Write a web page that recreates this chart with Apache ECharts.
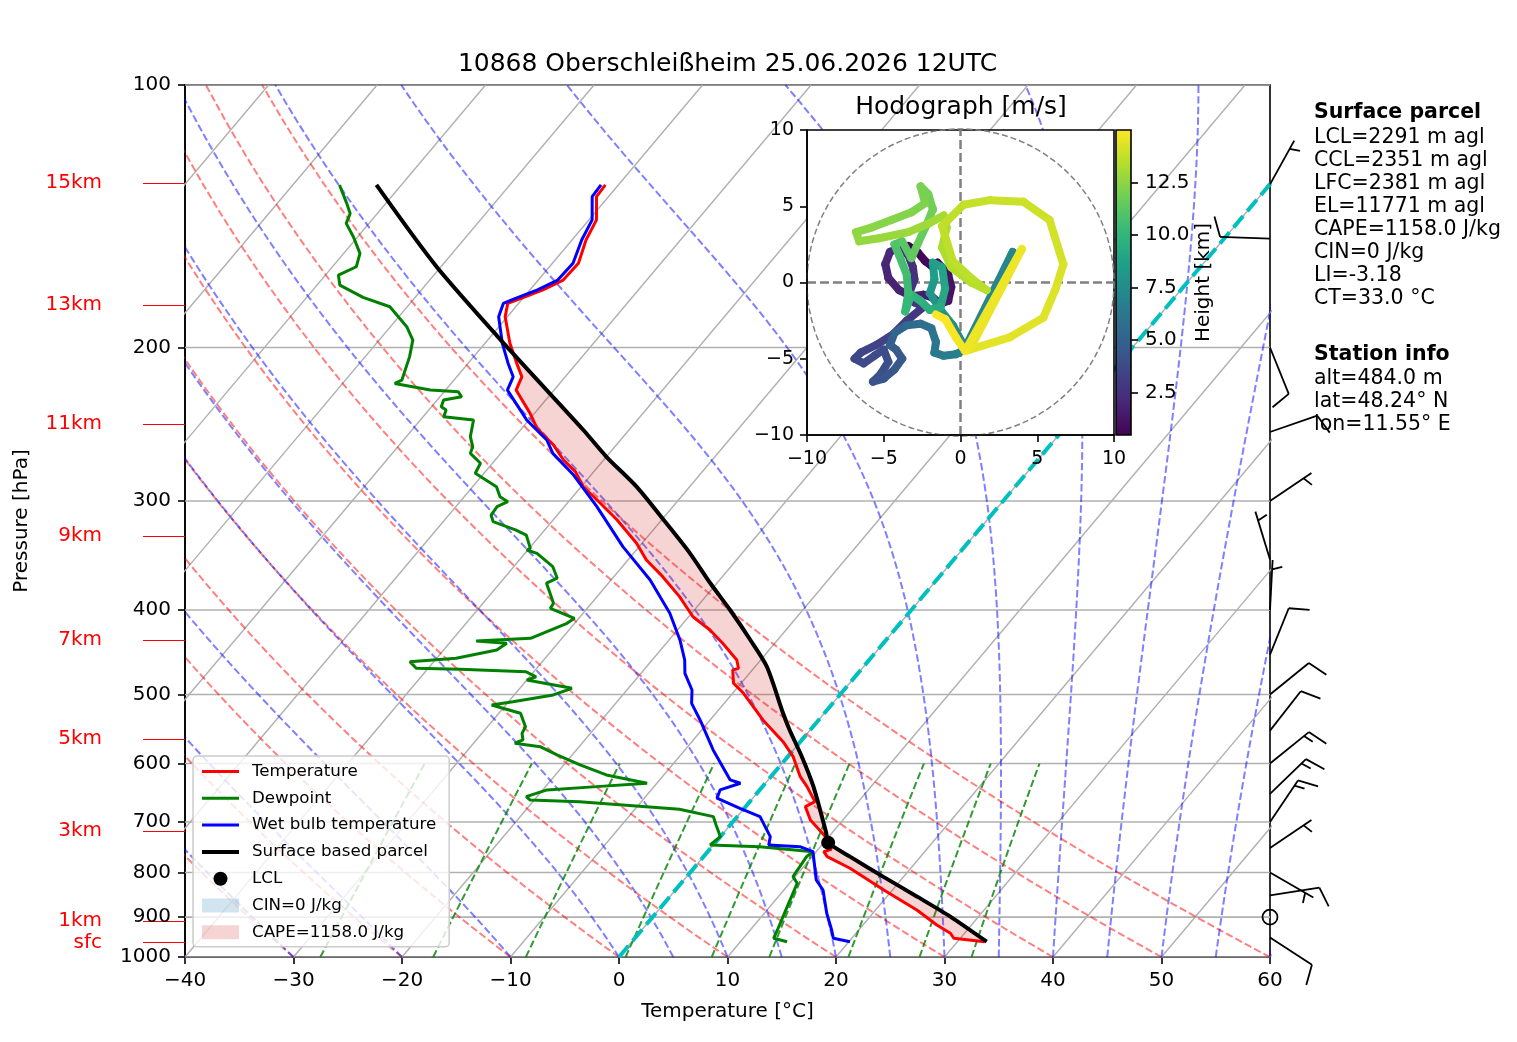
<!DOCTYPE html>
<html lang="en">
<head>
<meta charset="UTF-8">
<title>10868 Oberschleißheim skew-T</title>
<style>
  html, body { margin: 0; background: #fff; }
  #main { width: 1517px; height: 1042px; }
</style>
<script src="https://cdn.jsdelivr.net/npm/echarts@6/dist/echarts.min.js"></script>
</head>
<body>
<div id="main"></div>
<script>
const FONT = 'DejaVu Sans';
const SKEW = 67.7; // degC shift of an isotherm per pressure decade

// --- sounding (hPa, degC) ---
const tempP = [130.2,134.3,142.8,150.6,160.1,167.4,171.8,176.4,178.0,184.4,197.8,208.6,216.1,223.8,238.0,247.6,258.7,269.2,277.6,288.9,299.2,315.4,335.4,350.5,366.3,386.1,407.2,421.7,436.8,456.5,466.6,468.7,485.4,498.4,535.1,566.3,589.2,621.1,637.7,663.5,672.3,696.4,727.8,752.4,757.2,767.3,791.1,837.8,883.2,918.9,939.2,951.7,960.4];
const tempT = [-61.2,-61.1,-59.3,-58.7,-57.6,-57.7,-58.8,-60.4,-61.0,-60.2,-57.7,-55.5,-54.0,-53.5,-50.4,-48.6,-45.8,-43.7,-41.7,-39.8,-37.5,-34.1,-30.5,-28.3,-25.5,-22.4,-19.6,-17.0,-14.8,-12.2,-11.4,-11.8,-10.7,-9.0,-5.1,-1.6,0.5,2.7,4.1,6.0,5.5,7.0,9.7,11.2,10.7,11.4,14.4,19.2,23.8,26.8,28.7,29.4,32.5];

const dewP = [130.2,136.7,140.4,144.1,149.3,156.0,161.6,165.2,169.6,175.2,179.6,189.3,196.1,205.0,218.0,219.9,223.8,224.8,227.8,229.8,233.9,235.9,240.1,242.2,253.1,259.9,264.5,271.5,278.8,288.9,296.6,300.5,304.5,311.3,316.8,323.8,328.2,339.9,341.4,344.4,356.8,367.8,372.7,392.9,398.2,408.9,414.3,431.0,434.1,436.8,444.6,454.4,458.5,466.6,467.9,470.9,477.1,481.3,491.9,500.6,509.6,514.1,525.4,544.4,554.0,563.8,568.7,573.8,586.5,602.2,618.3,632.0,637.7,643.3,654.8,660.5,663.5,677.0,690.3,705.7,727.8,743.9,747.2,757.2,767.3,808.8,823.1,875.6,931.1,951.7,960.4];
const dewT = [-85.7,-83.6,-82.5,-82.1,-80.4,-78.5,-77.8,-78.8,-77.9,-74.8,-71.6,-68.5,-66.9,-65.9,-64.8,-65.2,-61.4,-58.7,-58.0,-59.4,-59.1,-58.4,-58.1,-55.1,-54.1,-53.1,-52.8,-51.1,-50.8,-47.8,-46.7,-45.6,-46.2,-46.1,-45.4,-42.7,-41.3,-39.9,-40.1,-38.9,-36.4,-35.1,-35.7,-33.5,-33.4,-30.4,-30.7,-32.9,-37.7,-34.7,-35.1,-38.2,-42.2,-41.1,-37.0,-30.7,-29.4,-30.0,-25.2,-26.4,-29.6,-31.3,-28.0,-26.5,-26.3,-25.7,-26.2,-23.6,-21.4,-18.5,-15.3,-10.9,-15.3,-19.6,-21.0,-20.4,-15.7,-5.9,-2.2,-1.3,0.0,-0.3,4.4,9.7,9.5,9.8,10.7,11.6,12.5,12.8,14.3];

const wbP = [130.2,134.3,142.8,150.6,160.1,167.4,171.8,176.4,178.0,184.4,197.8,208.6,216.1,223.8,238.0,242.2,255.3,264.5,280.1,304.5,338.4,369.5,403.5,432.9,456.5,472.8,494.1,511.8,535.1,578.8,626.5,632.0,643.3,657.5,675.2,690.3,727.8,743.9,747.2,757.2,816.0,837.8,890.9,931.1,951.7,960.4];
const wbT = [-61.6,-61.5,-59.7,-59.1,-58.1,-58.2,-59.3,-60.9,-61.4,-60.8,-58.4,-56.3,-54.8,-54.3,-51.1,-50.2,-46.8,-45.2,-41.6,-37.0,-31.5,-26.4,-22.0,-19.0,-17.0,-15.95,-14.0,-13.0,-10.9,-7.4,-3.5,-2.3,-3.65,-3.3,-0.4,2.1,4.6,5.1,8.1,9.7,12.2,13.6,15.75,17.5,18.3,20.1];

const parcelP = [960.4,898.8,852.7,808.8,767.2,739.4,721.3,637.8,589.2,549.1,525.4,464.7,433.0,400.0,372.7,344.4,318.2,288.8,266.9,248.7,201.3,161.6,130.2];
const parcelT = [32.7,27.4,22.8,18.1,13.5,10.4,9.5,4.7,1.3,-1.9,-3.8,-8.9,-12.5,-16.7,-20.6,-24.8,-29.3,-34.9,-40.0,-44.2,-57.2,-70.4,-82.3];
const lclP = 739.4, lclT = 10.4;
const elP = 197;

// --- axes / labels ---
const pTicks = [100,200,300,400,500,600,700,800,900,1000];
const heightLbl = ['15km','13km','11km','9km','7km','5km','3km','1km','sfc'];
const heightP = [129.5,178.7,244.8,329.0,433.1,562.3,717.1,909.4,962];
const isoT = [-110,-100,-90,-80,-70,-60,-50,-40,-30,-20,-10,0,10,20,30,40,50,60];
const dryT0 = [-40,-30,-20,-10,0,10,20,30,40,50,60];
const moistT0 = [-40,-30,-20,-10,0,5,10,15,20,25,30,35,40,45,50,55,60];
const mixW = [0.0004,0.001,0.002,0.004,0.007,0.01,0.016,0.024,0.032];

// --- wind barbs (hPa, kt, direction from) ---
const barbP = [130,150,200,250,300,350,400,450,500,550,600,650,700,750,800,850,900,950];
const barbKt = [5,10,10,10,5,5,5,10,10,10,15,15,15,5,5,10,0,10];
const barbDir = [29,272,158,71,56,343,3,22,51,38,51,46,34,56,120,81,0,123];

// --- hodograph (km, m/s) ---
const hodoH = [0.48,0.6,0.7,0.8,0.9,1.0,1.1,1.2,1.3,1.4,1.5,1.6,1.7,1.8,1.9,2.0,2.1,2.2,2.3,2.4,2.5,2.6,2.7,2.8,3.0,3.2,3.4,3.5,3.6,3.7,3.8,3.9,4.0,4.1,4.2,4.3,4.4,4.5,4.6,4.7,5.0,5.3,5.6,5.9,6.1,6.3,6.5,6.7,6.9,7.0,7.1,7.2,7.5,7.8,8.1,8.4,8.6,8.8,9.0,9.2,9.4,9.7,9.9,10.1,10.3,10.5,10.7,10.9,11.1,11.3,11.5,11.7,11.8,11.9,12.0,12.1,12.2,12.3,12.4,12.5,12.6,12.7,12.8,12.9,13.0,13.1,13.2,13.3,13.4,13.45,13.5,13.55,13.6,13.7,13.8,13.9,14.0,14.1,14.2,14.3,14.4,14.5,14.6,14.7,14.8,14.9,15.0];
const hodoU = [-3.4,-2.8,-2.3,-1.9,-1.5,-1.2,-0.8,-0.6,-0.8,-1.3,-1.8,-2.4,-3.2,-4.0,-4.7,-4.9,-4.6,-4.0,-3.4,-3.1,-3.0,-3.3,-3.0,-2.4,-3.5,-4.4,-5.5,-6.5,-6.9,-6.3,-5.6,-5.0,-4.7,-5.2,-5.7,-5.0,-4.3,-3.8,-4.2,-4.6,-4.3,-3.5,-2.6,-1.9,-1.6,-1.7,-1.1,-0.3,0.3,0.9,3.4,0.3,-0.5,-1.3,-2.0,-1.7,-1.8,-1.2,-1.0,-1.3,-2.0,-2.6,-3.2,-3.6,-3.4,-3.5,-4.0,-4.3,-3.8,-3.2,-2.8,-2.2,-1.8,-2.1,-2.6,-2.3,-3.2,-4.5,-5.8,-6.8,-6.6,-5.3,-3.4,-2.0,-1.1,-0.9,-1.2,-0.6,0.7,1.7,0.8,-0.5,-1.2,0.2,1.9,4.1,5.8,6.7,6.2,5.4,3.2,0.6,4.0,0.3,-0.3,-1.0,-1.6];
const hodoV = [2.4,2.0,1.4,1.1,1.3,1.0,0.5,-0.3,-1.2,-1.4,-1.0,-0.8,-0.9,-0.5,0.3,1.2,2.0,2.3,1.8,1.0,0.2,-0.6,-1.3,-1.6,-2.5,-3.4,-4.1,-4.6,-5.0,-5.3,-4.8,-4.4,-5.2,-6.0,-6.5,-6.3,-5.7,-5.0,-4.4,-4.1,-3.3,-2.8,-2.7,-3.0,-3.9,-4.6,-4.8,-4.7,-4.4,-3.4,2.0,-4.3,-2.8,-1.8,-0.7,0.2,1.3,1.0,-0.4,-1.6,-1.8,-1.2,-0.8,-1.9,-0.7,0.5,1.8,2.5,2.7,1.6,2.5,3.8,4.8,5.8,6.3,5.2,4.6,4.1,3.6,3.3,2.7,2.9,3.3,3.9,4.4,3.6,2.3,1.0,0.0,-0.5,0.2,1.4,3.7,5.1,5.4,5.3,4.1,1.2,-0.4,-2.3,-3.6,-4.4,2.2,-4.5,-3.6,-2.4,-2.1];
const hMin = 0.484, hMax = 15.0;
const cbTicks = [2.5,5,7.5,10,12.5];
const viridis = ['#440154','#482878','#3e4989','#31688e','#26828e','#1f9e89','#35b779','#6ece58','#b5de2b','#fde725'];

// --- texts ---
const titleText = '10868 Oberschleißheim 25.06.2026 12UTC';
const parcelInfo = ['LCL=2291 m agl','CCL=2351 m agl','LFC=2381 m agl','EL=11771 m agl','CAPE=1158.0 J/kg','CIN=0 J/kg','LI=-3.18','CT=33.0 °C'];
const stationInfo = ['alt=484.0 m','lat=48.24° N','lon=11.55° E'];
const capeName = 'CAPE=1158.0 J/kg', cinName = 'CIN=0 J/kg';

// skewed x position of a temperature at a pressure
function sx(t, p) { return t + SKEW * Math.log10(1000 / p); }
function prof(P, T) { return P.map((p, i) => [sx(T[i], p), Math.log10(p)]); }
function minus(v) { return v < 0 ? '\u2212' + Math.abs(v) : String(v); }

function dryAdiabat(t0) {
  const out = [];
  for (let p = 1000; p >= 100; p -= 10) {
    const t = (t0 + 273.15) * Math.pow(p / 1000, 0.2857) - 273.15;
    out.push([sx(t, p), Math.log10(p)]);
  }
  return out;
}
function moistAdiabat(t0) {
  const Rd = 287.04749, Cp = 1004.6662, Lv = 2.50084e6, eps = 0.6219569;
  const slope = (p, T) => {
    const tc = T - 273.15;
    const es = 6.112 * Math.exp(17.67 * tc / (tc + 243.5));
    const rs = eps * es / (p - es);
    return (Rd * T + Lv * rs) / (Cp + Lv * Lv * rs * eps / (Rd * T * T)) / p;
  };
  let T = t0 + 273.15;
  const out = [];
  for (let p = 1000; p >= 100; p -= 5) {
    out.push([sx(T - 273.15, p), Math.log10(p)]);
    const k1 = slope(p, T);
    const k2 = slope(p - 2.5, T - 2.5 * k1);
    T -= 5 * k2;
  }
  return out;
}
function mixLine(w) {
  const out = [];
  for (let p = 1000; p >= 600; p -= 10) {
    const e = p * w / (0.6219569 + w);
    const l = Math.log(e / 6.112);
    out.push([sx(243.5 * l / (17.67 - l), p), Math.log10(p)]);
  }
  return out;
}

function line(name, data, color, width, z, dash) {
  return {
    type: 'line', name: name, data: data, xAxisIndex: 0, yAxisIndex: 0,
    symbol: 'none', showSymbol: false, silent: true, clip: true, z: z,
    lineStyle: { color: color, width: width, type: dash || 'solid' },
    itemStyle: { color: color }, emphasis: { disabled: true }
  };
}

const series = [];
// isobars and isotherms
pTicks.forEach(p => series.push(line(null, [[-40, Math.log10(p)], [60, Math.log10(p)]], '#b0b0b0', 1.6, 1)));
isoT.forEach(t => series.push(line(null, [[t, 3], [t + SKEW, 2]], '#b0b0b0', 1.4, 1)));
dryT0.forEach(t => series.push(line(null, dryAdiabat(t), 'rgba(255,0,0,0.5)', 2, 1, [7.4, 3.2])));
moistT0.forEach(t => series.push(line(null, moistAdiabat(t), 'rgba(0,0,255,0.5)', 2, 1, [7.4, 3.2])));
mixW.forEach(w => series.push(line(null, mixLine(w), 'rgba(0,128,0,0.8)', 2, 1, [7.4, 3.2])));
series.push(line(null, [[0, 3], [SKEW, 2]], '#00bfbf', 4, 1, [14.8, 6.4]));

// CAPE area between parcel and environment
const capePoly = prof(parcelP.filter(p => p >= elP), parcelT.filter((t, i) => parcelP[i] >= elP))
  .concat(prof(tempP.filter(p => p >= elP), tempT.filter((t, i) => tempP[i] >= elP)));
const capeColor = 'rgba(214,39,40,0.2)';
series.push({
  type: 'custom', name: capeName, xAxisIndex: 0, yAxisIndex: 0, data: capePoly, clip: true, z: 2, silent: true,
  itemStyle: { color: capeColor },
  renderItem: (params, api) => {
    if (params.dataIndex !== 0) return null;
    return { type: 'polygon', shape: { points: capePoly.map(c => api.coord(c)) }, style: { fill: capeColor } };
  }
});
series.push({
  type: 'custom', name: cinName, xAxisIndex: 0, yAxisIndex: 0, data: [], z: 2, silent: true,
  itemStyle: { color: 'rgba(31,119,180,0.2)' }, renderItem: () => null
});

series.push(line('Temperature', prof(tempP, tempT), '#ff0000', 3, 3));
series.push(line('Dewpoint', prof(dewP, dewT), '#008000', 3, 3));
series.push(line('Wet bulb temperature', prof(wbP, wbT), '#0000ff', 3, 3));
const parcelSeries = line('Surface based parcel', prof(parcelP, parcelT), '#000000', 4, 4);
parcelSeries.smooth = 0.25;
series.push(parcelSeries);
series.push({
  type: 'scatter', name: 'LCL', xAxisIndex: 0, yAxisIndex: 0, data: [[sx(lclT, lclP), Math.log10(lclP)]],
  symbol: 'circle', symbolSize: 14, itemStyle: { color: '#000', opacity: 1 }, z: 5, silent: true
});

// wind barbs on the right border
series.push({
  type: 'custom', xAxisIndex: 0, yAxisIndex: 0, clip: false, z: 3, silent: true,
  data: barbP.map((p, i) => [60, Math.log10(p), barbKt[i], barbDir[i]]),
  encode: { x: 0, y: 1 },
  renderItem: (params, api) => {
    const base = api.coord([api.value(0), api.value(1)]);
    const kt = api.value(2), dir = api.value(3) * Math.PI / 180;
    const L = 50, sp = 6.25, ang = 72.6 * Math.PI / 180;
    const st = { stroke: '#000', lineWidth: 1.8, fill: null };
    if (kt < 2.5) return { type: 'circle', shape: { cx: base[0], cy: base[1], r: 7.5 }, style: st };
    const dx = Math.sin(dir), dy = -Math.cos(dir);
    const bx = dx * Math.cos(ang) - dy * Math.sin(ang), by = dx * Math.sin(ang) + dy * Math.cos(ang);
    const kids = [{ type: 'line', shape: { x1: base[0], y1: base[1], x2: base[0] + dx * L, y2: base[1] + dy * L }, style: st }];
    const n = Math.round(kt / 5), full = Math.floor(n / 2), half = n % 2;
    let off = L;
    for (let i = 0; i < full; i++) {
      const x0 = base[0] + dx * off, y0 = base[1] + dy * off;
      kids.push({ type: 'line', shape: { x1: x0, y1: y0, x2: x0 + bx * 21, y2: y0 + by * 21 }, style: st });
      off -= sp;
    }
    if (half) {
      if (full === 0) off -= 1.5 * sp;
      const x0 = base[0] + dx * off, y0 = base[1] + dy * off;
      kids.push({ type: 'line', shape: { x1: x0, y1: y0, x2: x0 + bx * 10.5, y2: y0 + by * 10.5 }, style: st });
    }
    return { type: 'group', children: kids };
  }
});

// hodograph
series.push({
  type: 'line', xAxisIndex: 1, yAxisIndex: 2, data: [[0, -10], [0, 10]], symbol: 'none', silent: true, z: 5,
  lineStyle: { color: '#808080', width: 2.5, type: [9, 4] }
});
series.push({
  type: 'line', xAxisIndex: 1, yAxisIndex: 2, data: [[-10, 0], [10, 0]], symbol: 'none', silent: true, z: 5,
  lineStyle: { color: '#808080', width: 2.5, type: [9, 4] }
});
series.push({
  type: 'custom', xAxisIndex: 1, yAxisIndex: 2, data: [[0, 0]], encode: { x: 0, y: 1 }, z: 5, silent: true,
  renderItem: (params, api) => {
    const c = api.coord([0, 0]), e = api.coord([10, 0]);
    return { type: 'circle', shape: { cx: c[0], cy: c[1], r: e[0] - c[0] },
      style: { fill: null, stroke: '#808080', lineWidth: 1.5, lineDash: [6, 3] } };
  }
});
const hodoSeg = [];
for (let i = 0; i < hodoH.length - 1; i++) {
  hodoSeg.push([hodoU[i], hodoV[i], hodoU[i + 1], hodoV[i + 1], (hodoH[i] + hodoH[i + 1]) / 2]);
}
const hodoIndex = series.length;
series.push({
  type: 'custom', xAxisIndex: 1, yAxisIndex: 2, data: hodoSeg, encode: { x: [0, 2], y: [1, 3] }, z: 6, silent: true,
  renderItem: (params, api) => {
    const a = api.coord([api.value(0), api.value(1)]), b = api.coord([api.value(2), api.value(3)]);
    return { type: 'line', shape: { x1: a[0], y1: a[1], x2: b[0], y2: b[1] },
      style: { stroke: api.visual('color'), lineWidth: 8, lineCap: 'round' } };
  }
});
// colour bar
series.push({
  type: 'custom', xAxisIndex: 2, yAxisIndex: 3, data: [[0, hMin], [1, hMax]], encode: { x: 0, y: 1 }, z: 6, silent: true,
  renderItem: (params, api) => {
    if (params.dataIndex !== 0) return null;
    const tl = api.coord([0, hMax]), br = api.coord([1, hMin]);
    const stops = viridis.map((c, i) => ({ offset: i / (viridis.length - 1), color: viridis[viridis.length - 1 - i] }));
    return { type: 'rect', shape: { x: tl[0], y: tl[1], width: br[0] - tl[0], height: br[1] - tl[1] },
      style: { fill: new echarts.graphic.LinearGradient(0, 0, 0, 1, stops), stroke: '#000', lineWidth: 1.6 } };
  }
});

const tickStyle = { show: true, length: 7, lineStyle: { color: '#000', width: 1.6 } };
const axLine = { show: true, onZero: false, lineStyle: { color: '#000', width: 1.6 } };
const pLog = pTicks.map(p => Math.log10(p));
const hLog = heightP.map(p => Math.log10(p));

const option = {
  animation: false,
  backgroundColor: '#fff',
  textStyle: { fontFamily: FONT, color: '#000' },
  grid: [
    { left: 185, right: 247, top: 85, bottom: 85, show: true, borderColor: '#000', borderWidth: 1.6,
      backgroundColor: 'transparent', containLabel: false, outerBoundsMode: 'none' },
    { left: 807, top: 130, width: 307, height: 305, show: true, borderColor: '#000', borderWidth: 1.6,
      backgroundColor: '#fff', z: 3, containLabel: false, outerBoundsMode: 'none' },
    { left: 1116, top: 130, width: 15, height: 305, show: false, containLabel: false, outerBoundsMode: 'none' }
  ],
  xAxis: [
    { gridIndex: 0, type: 'value', min: -40, max: 60, interval: 10, position: 'bottom',
      name: 'Temperature [°C]', nameLocation: 'middle', nameGap: 45,
      nameTextStyle: { fontSize: 20, color: '#000', fontFamily: FONT },
      axisLine: axLine, axisTick: tickStyle, splitLine: { show: false },
      axisLabel: { fontSize: 20, color: '#000', margin: 14, formatter: minus } },
    { gridIndex: 1, type: 'value', min: -10, max: 10, interval: 5, z: 7, position: 'bottom',
      axisLine: axLine, axisTick: tickStyle, splitLine: { show: false },
      axisLabel: { fontSize: 19, color: '#000', margin: 15, formatter: minus } },
    { gridIndex: 2, type: 'value', min: 0, max: 1, show: false, axisLine: { onZero: false } }
  ],
  yAxis: [
    { gridIndex: 0, type: 'value', min: 2, max: 3, inverse: true, position: 'left',
      name: 'Pressure [hPa]', nameLocation: 'middle', nameGap: 153,
      nameTextStyle: { fontSize: 20, color: '#000', fontFamily: FONT },
      axisLine: axLine, splitLine: { show: false },
      axisTick: Object.assign({}, tickStyle, { customValues: pLog }),
      axisLabel: { fontSize: 20, color: '#000', margin: 14, customValues: pLog,
        formatter: v => String(Math.round(Math.pow(10, v))) } },
    { gridIndex: 0, type: 'value', min: 2, max: 3, inverse: true, position: 'left', offset: 0,
      axisLine: { show: false, onZero: false }, splitLine: { show: false },
      axisTick: { show: true, length: 42, customValues: hLog, lineStyle: { color: '#ff0000', width: 1.2 } },
      axisLabel: { fontSize: 20, color: '#ff0000', margin: 83, customValues: hLog,
        formatter: v => { let k = 0; hLog.forEach((h, i) => { if (Math.abs(h - v) < Math.abs(hLog[k] - v)) k = i; }); return heightLbl[k]; } } },
    { gridIndex: 1, type: 'value', min: -10, max: 10, interval: 5, z: 7, position: 'left',
      axisLine: axLine, axisTick: tickStyle, splitLine: { show: false },
      axisLabel: { fontSize: 19, color: '#000', margin: 13, formatter: minus } },
    { gridIndex: 2, type: 'value', min: hMin, max: hMax, position: 'right', z: 7,
      name: 'Height [km]', nameLocation: 'middle', nameGap: 56,
      nameTextStyle: { fontSize: 20, color: '#000', fontFamily: FONT },
      axisLine: { show: false, onZero: false }, splitLine: { show: false },
      axisTick: Object.assign({}, tickStyle, { customValues: cbTicks }),
      axisLabel: { fontSize: 20, color: '#000', margin: 14, customValues: cbTicks, formatter: v => v.toFixed(1) } }
  ],
  visualMap: [{
    type: 'continuous', show: false, min: hMin, max: hMax, dimension: 4, seriesIndex: hodoIndex,
    inRange: { color: viridis }
  }],
  legend: {
    data: [
      { name: 'Temperature', itemStyle: { opacity: 0 } },
      { name: 'Dewpoint', itemStyle: { opacity: 0 } },
      { name: 'Wet bulb temperature', itemStyle: { opacity: 0 } },
      { name: 'Surface based parcel', itemStyle: { opacity: 0 } },
      { name: 'LCL', icon: 'circle', itemStyle: { color: '#000', opacity: 1 } },
      { name: cinName, icon: 'rect' },
      { name: capeName, icon: 'rect' }
    ],
    orient: 'vertical', left: 193, top: 756, itemWidth: 37, itemHeight: 14, itemGap: 9.8,
    padding: [7, 13, 6, 7], backgroundColor: 'rgba(255,255,255,0.8)', borderColor: '#cccccc',
    borderWidth: 1.5, borderRadius: 4, selectedMode: false, z: 10,
    lineStyle: { width: 'inherit' },
    textStyle: { fontSize: 16.7, color: '#000', fontFamily: FONT, lineHeight: 17, padding: [0, 0, 0, 8] }
  },
  graphic: [
    { type: 'text', x: 727.5, y: 64, z: 10, style: { text: titleText, fontSize: 25, fontFamily: FONT, fill: '#000', align: 'center', verticalAlign: 'middle' } },
    { type: 'text', x: 961, y: 107, z: 10, style: { text: 'Hodograph [m/s]', fontSize: 25, fontFamily: FONT, fill: '#000', align: 'center', verticalAlign: 'middle' } },
    { type: 'text', x: 1314, y: 101.5, z: 10, style: { text: 'Surface parcel', fontSize: 20.5, fontWeight: 'bold', fontFamily: FONT, fill: '#000', lineHeight: 23, verticalAlign: 'top' } },
    { type: 'text', x: 1314, y: 126.5, z: 10, style: { text: parcelInfo.join('\n'), fontSize: 20.5, fontFamily: FONT, fill: '#000', lineHeight: 23, verticalAlign: 'top' } },
    { type: 'text', x: 1314, y: 343.5, z: 10, style: { text: 'Station info', fontSize: 20.5, fontWeight: 'bold', fontFamily: FONT, fill: '#000', lineHeight: 23, verticalAlign: 'top' } },
    { type: 'text', x: 1314, y: 367.5, z: 10, style: { text: stationInfo.join('\n'), fontSize: 20.5, fontFamily: FONT, fill: '#000', lineHeight: 23, verticalAlign: 'top' } }
  ],
  series: series
};

const chart = echarts.init(document.getElementById('main'), null, { renderer: 'canvas' });
chart.setOption(option);
</script>
</body>
</html>
